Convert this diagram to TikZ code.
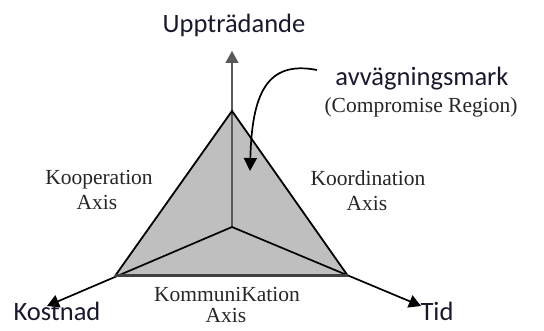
\documentclass[tikz,border=0pt]{standalone}
\usepackage{fontspec}
\setmainfont{Liberation Serif}
\newfontfamily\calfont{Carlito}
\usetikzlibrary{arrows.meta}
\definecolor{lbl}{RGB}{25,25,45}
\tikzset{
  edge/.style={line width=1.8pt, black},
  axisarrow/.style={line width=1.7pt, -{Triangle[width=13pt,length=12pt]}},
  sanslbl/.style={font=\calfont\fontsize{26.5}{28}\selectfont, text=lbl, inner sep=0pt, anchor=base},
  seriflbl/.style={font=\fontsize{21.5}{25}\selectfont, inner sep=0pt, text=black!85, anchor=base}
}
\begin{document}
\begin{tikzpicture}[x=1pt,y=-1pt]
\useasboundingbox (0,0) rectangle (544,331);
% vertices
\coordinate (T) at (232,111);
\coordinate (C) at (232,227);
\coordinate (L) at (115,276);
\coordinate (R) at (348,276);
\coordinate (upTip) at (232,51);
\coordinate (leftTip) at (47,306);
\coordinate (rightTip) at (421,306);
% fill
\fill[gray!50] (T) -- (L) -- (R) -- cycle;
% axes with arrows
\draw[axisarrow, black!65] (C) -- (upTip);
\draw[axisarrow] (C) -- (leftTip);
\draw[axisarrow] (C) -- (rightTip);
% triangle edges
\draw[edge, line join=miter] (L) -- (T) -- (R);
\draw[line width=3pt, black!75] (L) -- (R);
% labels
\node[sanslbl] (upp) at (234,33) {Uppträdande};
\node[sanslbl] (avv) at (422,86) {avvägningsmark};
\node[seriflbl] (comp) at (421,113) {(Compromise Region)};
\node[seriflbl] (koop1) at (99,185) {Kooperation};
\node[seriflbl] (koop2) at (97,210) {Axis};
\node[seriflbl] (koord1) at (368,186) {Koordination};
\node[seriflbl] (koord2) at (367,211) {Axis};
\node[seriflbl] (komm1) at (227,302) {KommuniKation};
\node[seriflbl] (komm2) at (226,323) {Axis};
\node[sanslbl] (kost) at (57,321) {Kostnad};
\node[sanslbl] (tid) at (437,321) {Tid};
% curved pointer
\coordinate (cstart) at (317,70);
\coordinate (ctip) at (250,171);
\draw[line width=1.7pt, -{Triangle[width=13pt,length=13pt]}] (cstart) .. controls (266,60) and (252,95) .. (ctip);
\end{tikzpicture}
\end{document}
